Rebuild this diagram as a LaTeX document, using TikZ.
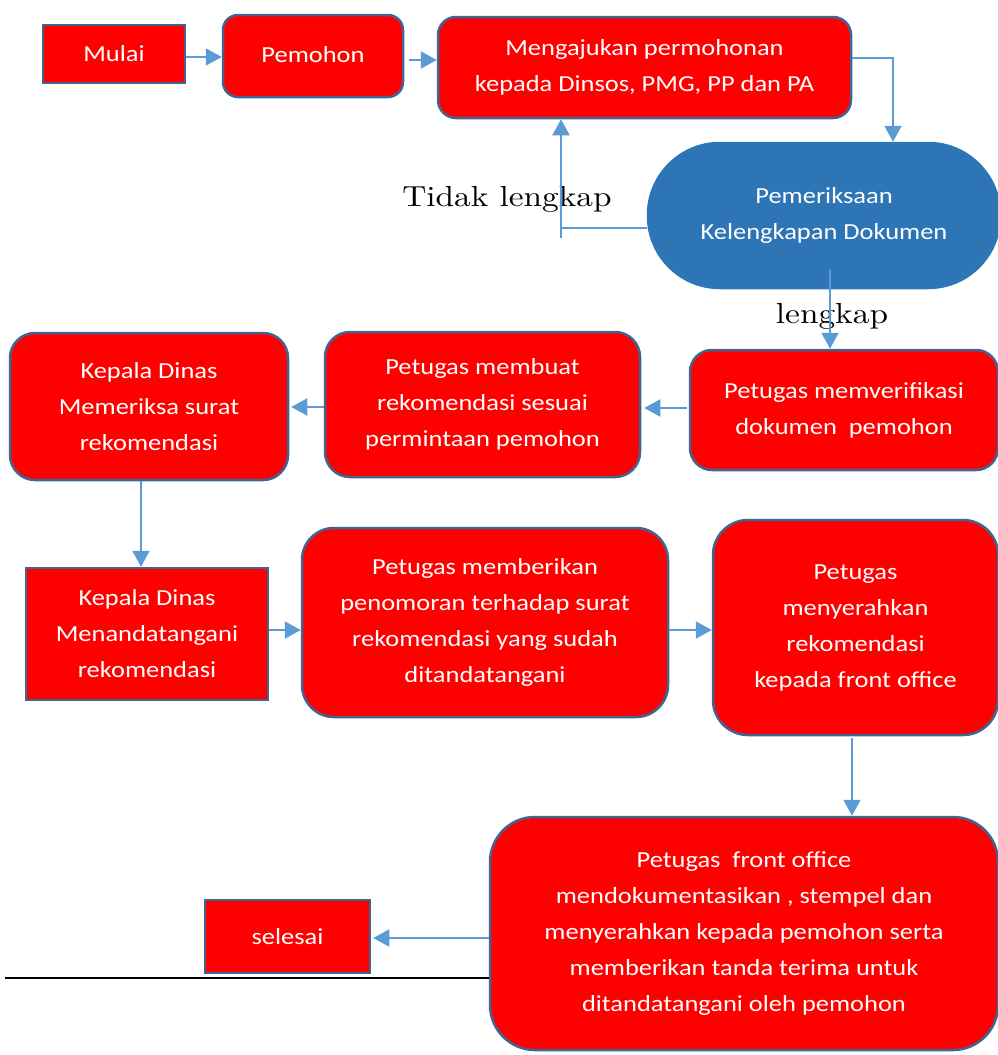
\documentclass[tikz,border=0pt]{standalone}
\usepackage{fontspec}
\newfontfamily\boxfont{Carlito}[FakeStretch=1.15]
\newfontfamily\labfont{lmroman10-regular.otf}[FakeStretch=1.15]
\usetikzlibrary{arrows.meta,calc}
\definecolor{boxred}{RGB}{255,0,0}
\definecolor{boxedge}{RGB}{65,100,145}
\definecolor{ovalblue}{RGB}{46,117,182}
\definecolor{connblue}{RGB}{91,155,213}
\begin{document}
\begin{tikzpicture}[x=1pt,y=-1pt,
  base/.style={draw=boxedge, line width=2.5pt, fill=boxred, text=white, align=center,
    inner sep=0pt, font={\boxfont\fontsize{23}{36}\selectfont}},
  sharpbox/.style={base},
  roundbox/.style={base, rounded corners=#1},
  wh/.style 2 args={minimum width=#1, minimum height=#2},
  conn/.style={draw=connblue, line width=2pt, -{Triangle[length=16pt,width=17pt]}},
  plain/.style={draw=connblue, line width=2pt},
  lab/.style={inner sep=0pt, font={\labfont\fontsize{29}{34}\selectfont}}]
\useasboundingbox (0,0) rectangle (998,1055);

% nodes
\node[sharpbox, wh={142pt}{58pt}] (mulai) at (114,54) {\raisebox{-3pt}{Mulai}};
\node[roundbox=15pt, wh={180pt}{82pt}] (pemohon) at (313,56) {\raisebox{3pt}{Pemohon}};
\node[roundbox=18pt, wh={413pt}{101pt}] (aju) at (644.5,67.5)
  {Mengajukan permohonan\\kepada Dinsos, PMG, PP dan PA};
\node[base, fill=ovalblue, draw=ovalblue, rounded corners=72pt, wh={352pt}{145pt}] (oval) at (824,215.5)
  {Pemeriksaan\\Kelengkapan Dokumen};
\node[roundbox=25pt, wh={278pt}{147pt}] (kd1) at (149,406.5)
  {Kepala Dinas\\Memeriksa surat\\rekomendasi};
\node[roundbox=25pt, wh={315pt}{145pt}] (buat) at (482.5,404.5)
  {Petugas membuat\\rekomendasi sesuai\\permintaan pemohon};
\node[roundbox=22pt, wh={308pt}{120pt}] (verif) at (844,410)
  {Petugas memverifikasi\\dokumen~ pemohon};
\node[sharpbox, wh={242pt}{132pt}] (kd2) at (147,634)
  {Kepala Dinas\\Menandatangani\\rekomendasi};
\node[roundbox=32pt, wh={366pt}{189pt}] (nomor) at (485,622.5)
  {Petugas memberikan\\penomoran terhadap surat\\rekomendasi yang sudah\\ditandatangani};
\node[roundbox=35pt, wh={285pt}{215pt}] (serah) at (855.5,627.5)
  {Petugas\\menyerahkan\\rekomendasi\\kepada front office};
\node[roundbox=45pt, wh={508pt}{233pt}] (fo) at (744,933.5)
  {Petugas~ front office\\mendokumentasikan , stempel dan\\menyerahkan kepada pemohon serta\\memberikan tanda terima untuk\\ditandatangani oleh pemohon};
\node[sharpbox, wh={165pt}{73pt}] (selesai) at (287.5,936.5) {selesai};

% labels
\node[lab] (tl) at (507,199) {Tidak lengkap};
\node[lab] (lk) at (832,316) {lengkap};

% connectors
\draw[conn] ([yshift=-3pt]mulai.east) -- ([yshift=-3pt]mulai.east -| pemohon.west);
\draw[conn] ([xshift=5pt,yshift=-4pt]pemohon.east) -- ([yshift=-4pt]pemohon.east -| aju.west);
\coordinate (a1) at ([yshift=9.5pt]aju.east);
\coordinate (a2) at ([xshift=69pt]oval.north);
\draw[conn] (a1) -| (a2);
\coordinate (t1) at ([yshift=-12.5pt]oval.west);
\coordinate (t2) at (561,238);
\draw[plain] (t1) -- (t1 -| t2);
\draw[conn] (t2) -- (t2 |- aju.south);
\coordinate (l1) at ([xshift=6pt,yshift=20pt]oval.south);
\draw[conn] (l1) -- (l1 |- verif.north);
\coordinate (v1) at ([xshift=-2pt,yshift=2pt]verif.west);
\draw[conn] (v1) -- ([xshift=3pt]v1 -| buat.east);
\coordinate (b1) at ([yshift=-2.5pt]buat.west);
\draw[conn] (b1) -- ([xshift=2pt]b1 -| kd1.east);
\coordinate (k1) at ([xshift=-8pt]kd1.south);
\draw[conn] (k1) -- (k1 |- kd2.north);
\coordinate (k2) at ([yshift=4pt]kd2.east);
\draw[conn] (k2) -- (k2 -| nomor.west);
\coordinate (n1) at ([yshift=-7.5pt]nomor.east);
\draw[conn] (n1) -- (n1 -| serah.west);
\coordinate (s1) at ([xshift=-3.5pt,yshift=-2pt]serah.south);
\draw[conn] (s1) -- (s1 |- fo.north);
\coordinate (f1) at ([yshift=-4.5pt]fo.west);
\draw[conn] (f1) -- ([xshift=2pt]f1 -| selesai.east);
\coordinate (bl) at (5,978);
\draw[black, line width=1.6pt] (bl) -- (bl -| fo.west);
\end{tikzpicture}
\end{document}
